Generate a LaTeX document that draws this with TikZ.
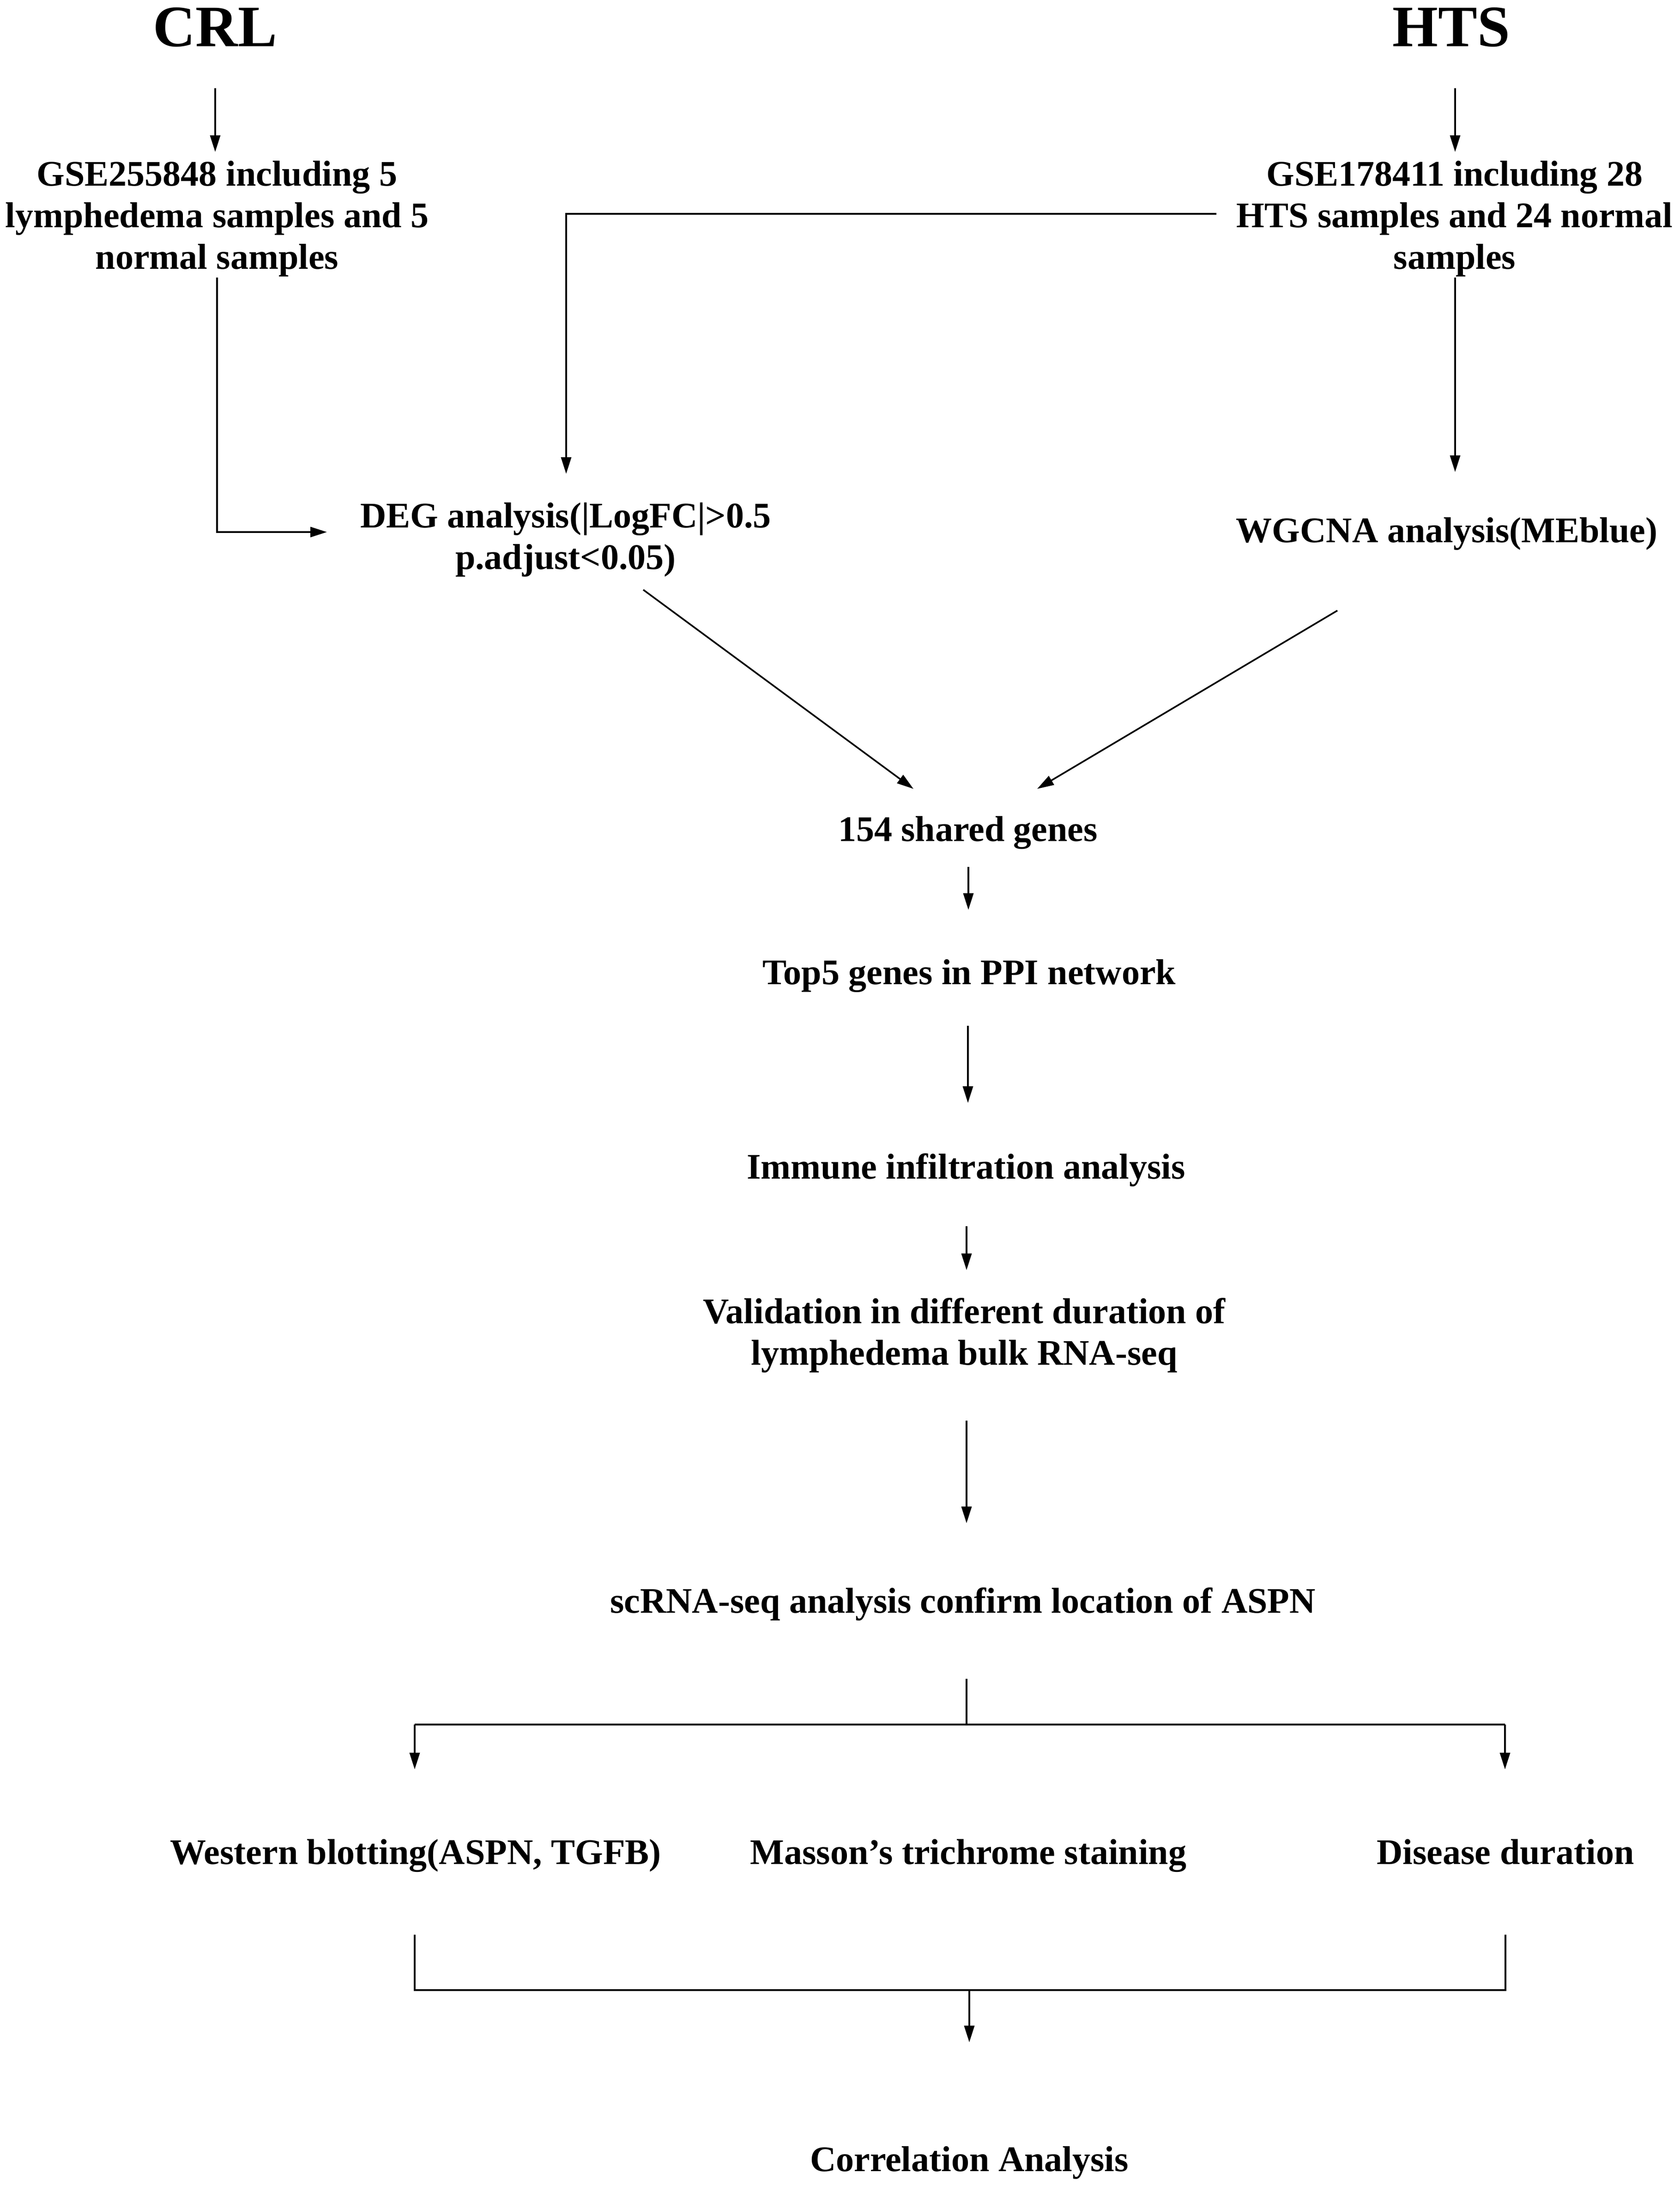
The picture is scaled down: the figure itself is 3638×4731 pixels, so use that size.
\documentclass[tikz,border=0pt]{standalone}
\usepackage{fontspec}
\setmainfont{Liberation Serif}
\usetikzlibrary{arrows.meta}
\begin{document}
\begin{tikzpicture}[x=1pt,y=-1pt,
  txt/.style={font=\bfseries\fontsize{78}{90}\selectfont, inner sep=0pt, anchor=base, align=center},
  ttl/.style={font=\bfseries\fontsize{127}{140}\selectfont, inner sep=0pt, anchor=base},
  conn/.style={line width=3.5pt, -{Triangle[length=36pt,width=22pt]}},
  plain/.style={line width=3.5pt},
  brk/.style={line width=4.5pt},
]
\useasboundingbox (0,0) rectangle (3638,4731);
% titles
\node[ttl] (crl) at (466,100) {CRL};
\node[ttl] (hts) at (3143,100) {HTS};
% data sets (base anchor = baseline of the last line)
\node[txt] (gse1) at (470,582) {GSE255848 including 5\\lymphedema samples and 5\\normal samples};
\node[txt] (gse2) at (3150,582) {GSE178411 including 28\\HTS samples and 24 normal\\samples};
% analyses
\node[txt] (deg) at (1225,1232) {DEG analysis(|LogFC|>0.5\\p.adjust<0.05)};
\node[txt] (wgcna) at (3133,1174) {WGCNA analysis(MEblue)};
\node[txt] (shared) at (2096,1821) {154 shared genes};
\node[txt] (top5) at (2099,2131) {Top5 genes in PPI network};
\node[txt] (immune) at (2092,2552) {Immune infiltration analysis};
\node[txt] (valid) at (2088,2955) {Validation in different duration of\\lymphedema bulk RNA-seq};
\node[txt] (scrna) at (2085,3492) {scRNA-seq analysis confirm location of ASPN};
\node[txt] (wb) at (900,4036) {Western blotting(ASPN, TGFB)};
\node[txt] (masson) at (2097,4036) {Masson’s trichrome staining};
\node[txt] (dur) at (3260,4036) {Disease duration};
\node[txt] (corr) at (2099,4701) {Correlation Analysis};
% connector coordinates
\coordinate (crlS) at (466,191);   \coordinate (gse1N) at (466,329);
\coordinate (htsS) at (3151,191);  \coordinate (gse2N) at (3151,329);
\coordinate (gse1S) at (470,601);  \coordinate (gse1C) at (470,1152); \coordinate (degW) at (708,1152);
\coordinate (gse2W) at (2634,463); \coordinate (gse2C) at (1226,463); \coordinate (degN) at (1226,1026);
\coordinate (gse2S) at (3151,601); \coordinate (wgcnaN) at (3151,1022);
\coordinate (degS) at (1393,1277); \coordinate (sharedNW) at (1978,1708);
\coordinate (wgcnaS) at (2896,1322); \coordinate (sharedNE) at (2246,1708);
\coordinate (sharedS) at (2097,1877); \coordinate (top5N) at (2097,1970);
\coordinate (top5S) at (2096,2221); \coordinate (immuneN) at (2096,2388);
\coordinate (immuneS) at (2093,2655); \coordinate (validN) at (2093,2750);
\coordinate (validS) at (2093,3076); \coordinate (scrnaN) at (2093,3298);
\coordinate (scrnaS) at (2093,3635); \coordinate (splitC) at (2093,3734);
\coordinate (splitL) at (898,3734); \coordinate (splitR) at (3259,3734);
\coordinate (wbN) at (898,3831); \coordinate (durN) at (3259,3831);
\coordinate (wbS) at (898,4189); \coordinate (durS) at (3260,4189);
\coordinate (joinL) at (898,4309); \coordinate (joinR) at (3260,4309);
\coordinate (joinC) at (2099,4309); \coordinate (corrN) at (2099,4422);
% connectors
\draw[conn] (crlS) -- (gse1N);
\draw[conn] (htsS) -- (gse2N);
\draw[conn] (gse1S) -- (gse1C) -- (degW);
\draw[conn] (gse2W) -- (gse2C) -- (degN);
\draw[conn] (gse2S) -- (wgcnaN);
\draw[conn] (degS) -- (sharedNW);
\draw[conn] (wgcnaS) -- (sharedNE);
\draw[conn] (sharedS) -- (top5N);
\draw[conn] (top5S) -- (immuneN);
\draw[conn] (immuneS) -- (validN);
\draw[conn] (validS) -- (scrnaN);
\draw[plain] (scrnaS) -- (splitC);
\draw[brk] (splitL) -- (splitR);
\draw[conn] (splitL) -- (wbN);
\draw[conn] (splitR) -- (durN);
\draw[brk] (wbS) -- (joinL) -- (joinR) -- (durS);
\draw[conn] (joinC) -- (corrN);
\end{tikzpicture}
\end{document}
